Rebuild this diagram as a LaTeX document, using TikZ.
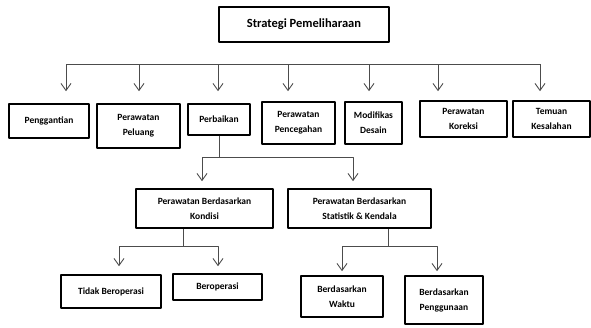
\documentclass[tikz,border=0pt]{standalone}
\usepackage{fontspec}
\setmainfont{Carlito}
\usetikzlibrary{arrows.meta}
\begin{document}
\begin{tikzpicture}[x=1pt,y=-1pt,line join=round,
	box/.style={draw,line width=1.6pt,align=center,inner sep=0pt,font=\bfseries\fontsize{9.5}{15}\selectfont},
	link/.style={black!70,line width=0.9pt},
	arr/.style={link,-{Straight Barb[length=7pt,width=10pt]}}]
	\def\bus{64}
	\useasboundingbox (0,0) rectangle (591,327);
	%	\draw[color=gray!50,dashed] (0,0) grid[step=50] (591,327);
	\node[box,minimum width=170,minimum height=35,font=\bfseries\fontsize{12.5}{15}\selectfont] (top) at (304,24.5) {Strategi Pemeliharaan};
	\node[box,minimum width=80,minimum height=34] (n1) at (49,121) {Penggantian};
	\node[box,minimum width=83,minimum height=44] (n2) at (138.5,126) {Perawatan\\Peluang};
	\node[box,minimum width=62,minimum height=31] (n3) at (219,119.5) {Perbaikan};
	\node[box,minimum width=73,minimum height=42] (n4) at (298.5,123) {Perawatan\\Pencegahan};
	\node[box,minimum width=57,minimum height=42] (n5) at (373.5,123) {Modifikas\\Desain};
	\node[box,minimum width=87,minimum height=36] (n6) at (463.5,119) {Perawatan\\Koreksi};
	\node[box,minimum width=77,minimum height=36] (n7) at (551.5,119) {Temuan\\Kesalahan};
	\node[box,minimum width=137,minimum height=39] (k) at (204.5,208.5) {Perawatan Berdasarkan\\Kondisi};
	\node[box,minimum width=143,minimum height=39] (s) at (359.5,208.5) {Perawatan Berdasarkan\\Statistik \& Kendala};
	\node[box,minimum width=100,minimum height=33] (k1) at (111,291.5) {Tidak Beroperasi};
	\node[box,minimum width=89,minimum height=26] (k2) at (217.5,287) {Beroperasi};
	\node[box,minimum width=82,minimum height=41] (s1) at (342,296.5) {Berdasarkan\\Waktu};
	\node[box,minimum width=78,minimum height=48] (s2) at (444,300) {Berdasarkan\\Penggunaan};
	\coordinate (busL) at (66,\bus); \coordinate (busR) at (540,\bus);
	\draw[link] (busL)--(busR);
	\foreach \n/\xx/\gap in {n1/66/12,n2/139/12,n3/218/12,n4/288/10,n5/369/10,n6/438/9,n7/540/9}
		\draw[arr,shorten >=\gap] (\xx,\bus) -- (\xx,\bus |- \n.north);
	\coordinate (j1) at (219,157);
	\draw[link] (n3.south)--(j1);
	\draw[arr,shorten >=7] (j1) -| ([xshift=-2.5]k.north);
	\draw[arr,shorten >=7] (j1) -| ([xshift=-6.5]s.north);
	\coordinate (j2) at (183,246);
	\draw[link] ([xshift=-21.5]k.south)--(j2);
	\draw[arr,shorten >=8] (j2) -| ([xshift=8]k1.north);
	\draw[arr,shorten >=7] (j2) -| ([xshift=0.5]k2.north);
	\coordinate (j3) at (388,246);
	\draw[link] ([xshift=28.5]s.south)--(j3);
	\draw[arr,shorten >=4] (j3) -| (s1.north);
	\draw[arr,shorten >=4] (j3) -| ([xshift=-7]s2.north);
\end{tikzpicture}
\end{document}
